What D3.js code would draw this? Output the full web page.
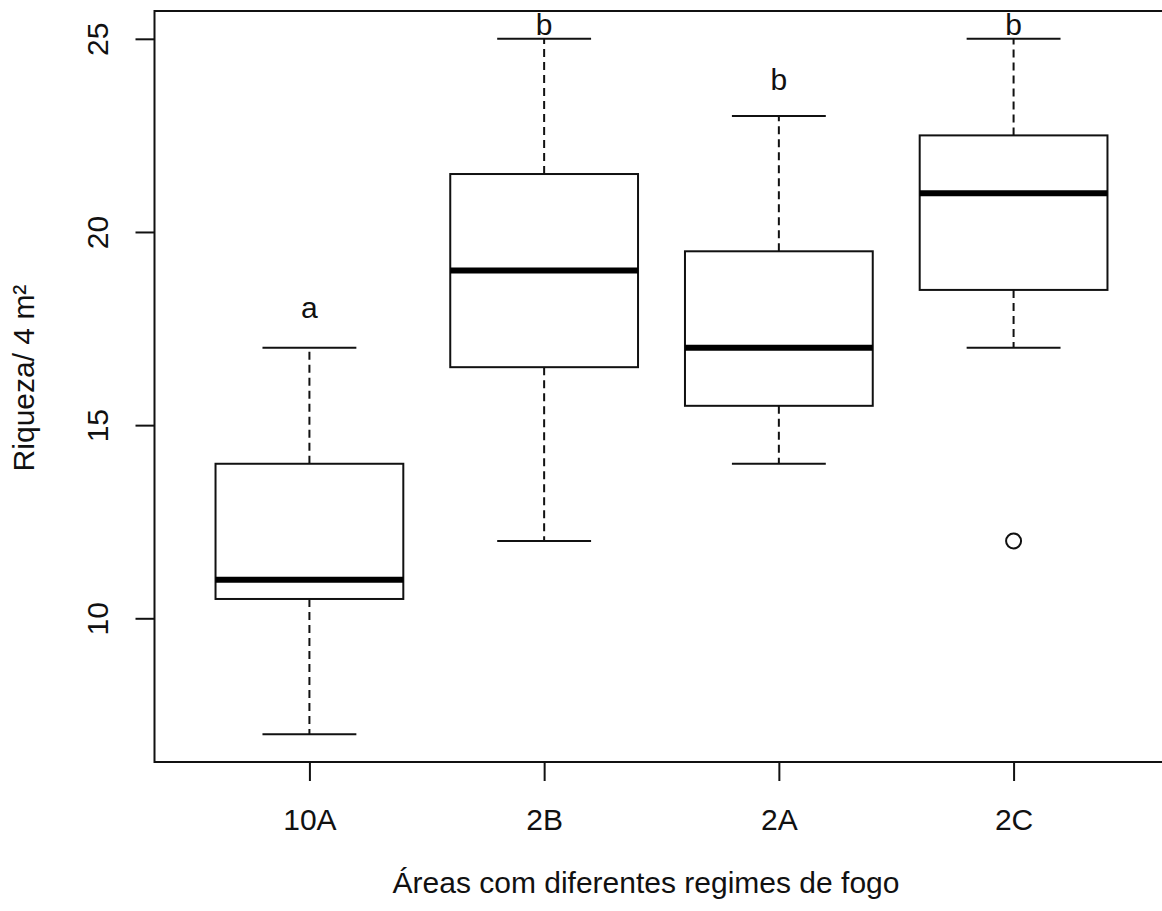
<!DOCTYPE html>
<html>
<head>
<meta charset="utf-8">
<script src="https://cdn.jsdelivr.net/npm/d3@7"></script>
<style>
  body { margin: 0; background: #fff; }
  svg text { font-family: "Liberation Sans", Arial, Helvetica, sans-serif; fill: #111; }
</style>
</head>
<body>
<div id="chart"></div>
<script>
// box statistics
const categories  = ["10A", "2B", "2A", "2C"];
const whiskerLow  = [7, 12, 14, 17];
const q1          = [10.5, 16.5, 15.5, 18.5];
const median      = [11, 19, 17, 21];
const q3          = [14, 21.5, 19.5, 22.5];
const whiskerHigh = [17, 25, 23, 25];
const outliers    = [{ cat: "2C", value: 12 }];
// letters from the post-hoc test and the height they sit at
const letters     = ["a", "b", "b", "b"];
const letterY     = [17.77, 25.1, 23.68, 25.1];
const yTicks      = [10, 15, 20, 25];

const width = 1162, height = 911;
const plot = { left: 154.5, right: 1168.5, top: 11, bottom: 762 };
const ink = "#111";

const svg = d3.select("#chart")
  .append("svg")
  .attr("width", width)
  .attr("height", height);

const x = d3.scalePoint()
  .domain(categories)
  .range([plot.left, plot.right])
  .padding(0.66);

const y = d3.scaleLinear()
  .domain([6.28, 25.72])
  .range([plot.bottom, plot.top]);

const step = x.step();
const boxHalf = step * 0.4;
const capHalf = step * 0.2;

const boxes = categories.map((c, i) => ({
  cat: c, lo: whiskerLow[i], q1: q1[i], med: median[i], q3: q3[i], hi: whiskerHigh[i],
  letter: letters[i], ly: letterY[i]
}));

const g = svg.append("g");

// whiskers (dashed)
g.selectAll(".whisker-up")
  .data(boxes)
  .enter()
  .append("line")
  .attr("x1", d => x(d.cat)).attr("x2", d => x(d.cat))
  .attr("y1", d => y(d.q3)).attr("y2", d => y(d.hi))
  .attr("stroke", ink).attr("stroke-width", 2)
  .attr("stroke-dasharray", "8,5");

g.selectAll(".whisker-down")
  .data(boxes)
  .enter()
  .append("line")
  .attr("x1", d => x(d.cat)).attr("x2", d => x(d.cat))
  .attr("y1", d => y(d.q1)).attr("y2", d => y(d.lo))
  .attr("stroke", ink).attr("stroke-width", 2)
  .attr("stroke-dasharray", "8,5");

// caps
["hi", "lo"].forEach(k => {
  g.selectAll(".cap-" + k)
    .data(boxes)
    .enter()
    .append("line")
    .attr("x1", d => x(d.cat) - capHalf).attr("x2", d => x(d.cat) + capHalf)
    .attr("y1", d => y(d[k])).attr("y2", d => y(d[k]))
    .attr("stroke", ink).attr("stroke-width", 2);
});

// boxes
g.selectAll("rect.box")
  .data(boxes)
  .enter()
  .append("rect")
  .attr("class", "box")
  .attr("x", d => x(d.cat) - boxHalf)
  .attr("width", boxHalf * 2)
  .attr("y", d => y(d.q3))
  .attr("height", d => y(d.q1) - y(d.q3))
  .attr("fill", "#fff")
  .attr("stroke", ink).attr("stroke-width", 2);

// medians
g.selectAll(".median")
  .data(boxes)
  .enter()
  .append("line")
  .attr("x1", d => x(d.cat) - boxHalf).attr("x2", d => x(d.cat) + boxHalf)
  .attr("y1", d => y(d.med)).attr("y2", d => y(d.med))
  .attr("stroke", "#000").attr("stroke-width", 6);

// outliers
g.selectAll("circle.outlier")
  .data(outliers)
  .enter()
  .append("circle")
  .attr("cx", d => x(d.cat))
  .attr("cy", d => y(d.value))
  .attr("r", 7.5)
  .attr("fill", "none")
  .attr("stroke", ink).attr("stroke-width", 2);

// group letters
g.selectAll("text.letter")
  .data(boxes)
  .enter()
  .append("text")
  .attr("x", d => x(d.cat))
  .attr("y", d => y(d.ly))
  .attr("text-anchor", "middle")
  .style("font-size", "30px")
  .text(d => d.letter);

// frame
svg.append("rect")
  .attr("x", plot.left)
  .attr("y", plot.top)
  .attr("width", plot.right - plot.left)
  .attr("height", plot.bottom - plot.top)
  .attr("fill", "none")
  .attr("stroke", ink).attr("stroke-width", 2);

// y axis
const yAxis = svg.append("g")
  .attr("transform", `translate(${plot.left},0)`)
  .call(d3.axisLeft(y).tickValues(yTicks).tickSize(19).tickFormat(d3.format("d")));
yAxis.select(".domain").remove();
yAxis.selectAll("line").attr("stroke", ink).attr("stroke-width", 2);
yAxis.selectAll("text")
  .attr("transform", "rotate(-90)")
  .attr("x", 0)
  .attr("y", -47)
  .attr("dy", 0)
  .attr("text-anchor", "middle")
  .style("font-size", "30px");

// x axis
const xAxis = svg.append("g")
  .attr("transform", `translate(0,${plot.bottom})`)
  .call(d3.axisBottom(x).tickSize(19));
xAxis.select(".domain").remove();
xAxis.selectAll("line").attr("stroke", ink).attr("stroke-width", 2);
xAxis.selectAll("text")
  .attr("y", 68)
  .attr("dy", 0)
  .style("font-size", "30px");

// axis titles
svg.append("text")
  .attr("x", 646)
  .attr("y", 893)
  .attr("text-anchor", "middle")
  .style("font-size", "30px")
  .text("Áreas com diferentes regimes de fogo");

svg.append("text")
  .attr("transform", "translate(34,378) rotate(-90)")
  .attr("text-anchor", "middle")
  .style("font-size", "30px")
  .text("Riqueza/ 4 m²");
</script>
</body>
</html>
